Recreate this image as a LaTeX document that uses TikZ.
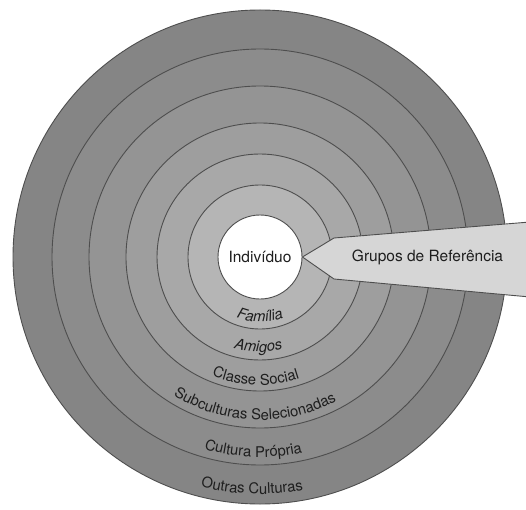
\documentclass[tikz,border=0pt]{standalone}
\usepackage{fontspec}
\setmainfont{TeX Gyre Heros}
\usetikzlibrary{positioning,decorations.text}
\definecolor{RingLine}{HTML}{4E4E4E}
\definecolor{TextDark}{HTML}{1E1E1E}

\begin{document}
\begin{tikzpicture}[x=1pt,y=1pt,
          every node/.style={font=\fontsize{15.5}{18}\selectfont, text=TextDark},
          ring/.style={draw=RingLine, line width=0.9pt},
          ringlabel/.style 2 args={decorate, decoration={text along path,
            text align=center, text={|\fontsize{14.8}{17}\selectfont\color{TextDark}#1|#2}}}]
        \useasboundingbox (0,0) rectangle (526,509);
        \coordinate (c) at (260,252);
        % rings, outer to inner
        \foreach \r/\k in {247/48,208/45,171/42,134/38,103/34,72/29}
          \draw[ring, fill=black!\k] (c) circle[radius=\r];
        \node[circle, ring, fill=white, minimum size=84pt, inner sep=0pt]
        (indiv) at (c) {Indivíduo};
        \draw[ring, fill=black!16] (indiv.east) -- (334,271) -- (530,287)
          -- (530,212) -- (334,230) -- cycle;
        \node[right=46pt of indiv] (grupos) {Grupos de Referência};
        \path[ringlabel={\itshape}{Família}]
          (c) ++(200:65) arc[start angle=200, end angle=340, radius=65];
        \path[ringlabel={\itshape}{Amigos}]
          (c) ++(199:95) arc[start angle=199, end angle=339, radius=95];
        \path[ringlabel={}{Classe Social}]
          (c) ++(198:128) arc[start angle=198, end angle=338, radius=128];
        \path[ringlabel={}{Subculturas Selecionadas}]
          (c) ++(198:163) arc[start angle=198, end angle=338, radius=163];
        \path[ringlabel={}{Cultura Própria}]
          (c) ++(198:200) arc[start angle=198, end angle=338, radius=200];
        \path[ringlabel={}{Outras Culturas}]
          (c) ++(198:237) arc[start angle=198, end angle=338, radius=237];
      \end{tikzpicture}
\end{document}
